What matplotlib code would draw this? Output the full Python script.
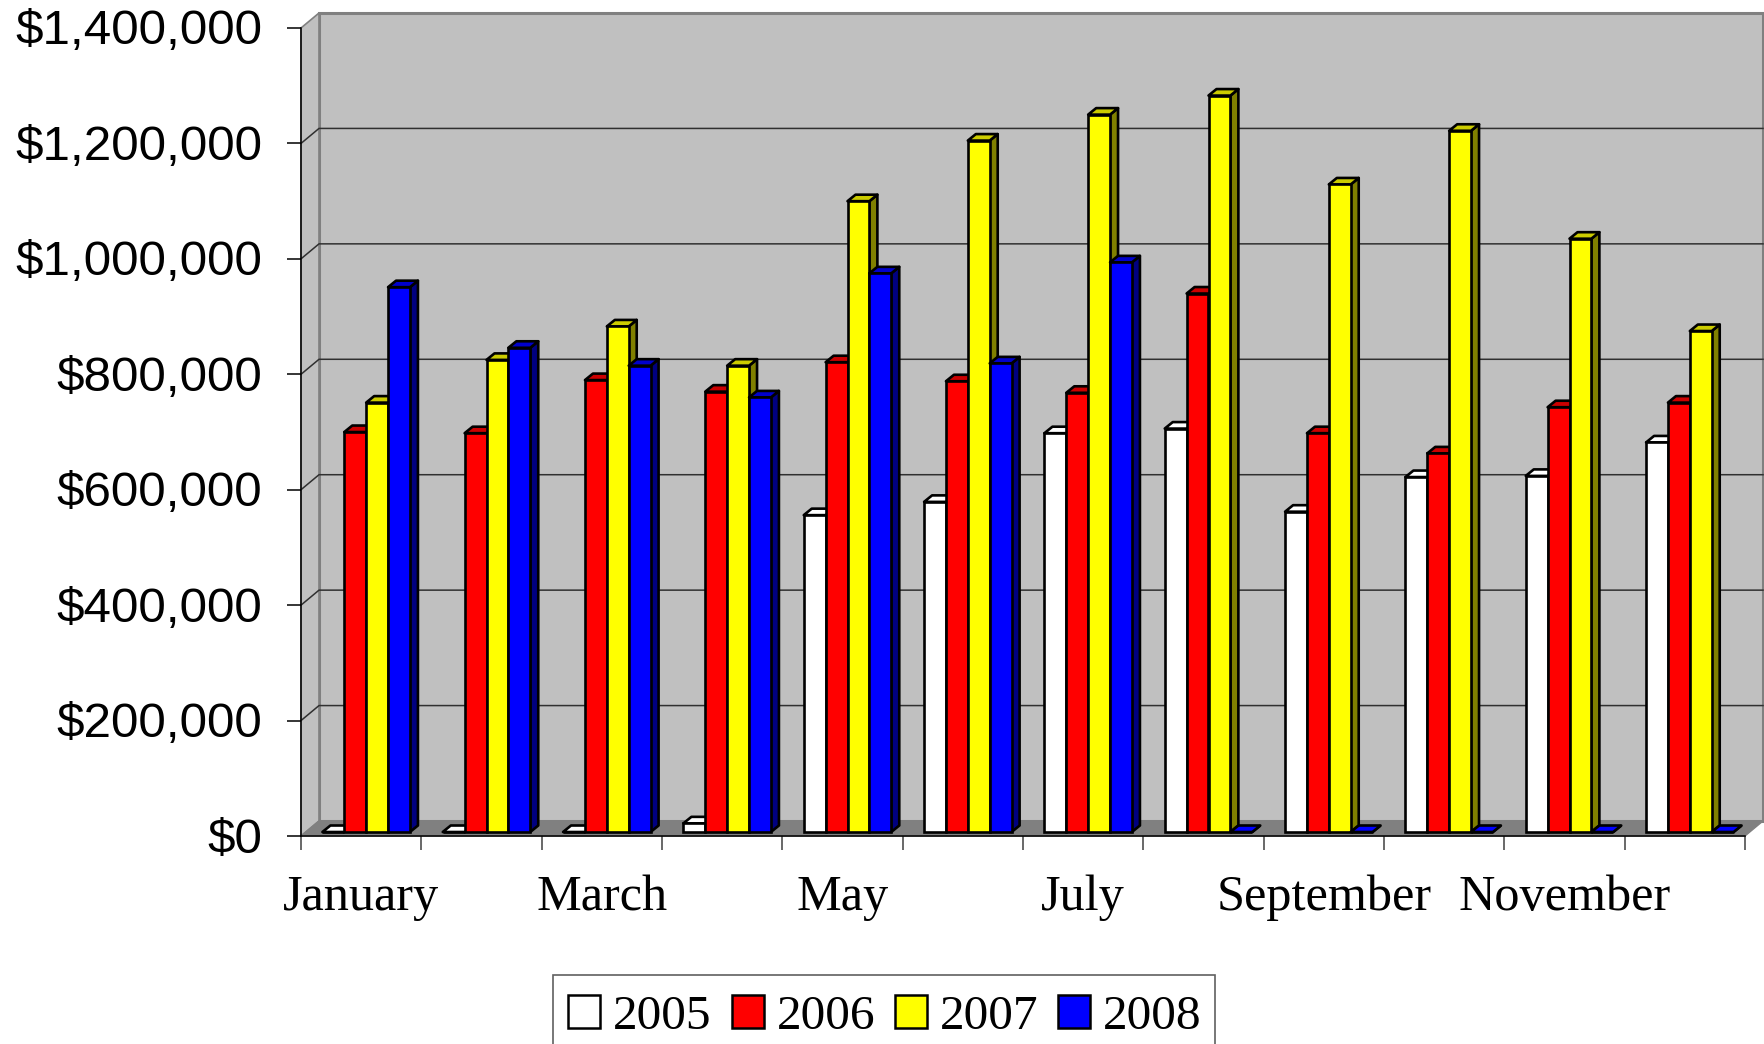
import matplotlib
matplotlib.use('Agg')
import matplotlib.pyplot as plt
from matplotlib.patches import Patch, Rectangle
from matplotlib.ticker import FuncFormatter
from matplotlib.transforms import Affine2D

months = ['January', 'February', 'March', 'April', 'May', 'June', 'July',
          'August', 'September', 'October', 'November', 'December']
years = ['2005', '2006', '2007', '2008']

sales_2005 = [0, 0, 0, 15000, 549000, 572000, 691000, 699000, 555000, 615000, 617000, 675000]
sales_2006 = [693000, 691000, 783000, 763000, 814000, 781000, 761000, 933000, 691000, 656000, 736000, 744000]
sales_2007 = [744000, 818000, 876000, 808000, 1093000, 1198000, 1243000, 1276000, 1122000, 1215000, 1028000, 868000]
sales_2008 = [944000, 839000, 808000, 753000, 968000, 812000, 987000, 0, 0, 0, 0, 0]
allSales = [sales_2005, sales_2006, sales_2007, sales_2008]

faceCols = ['#FFFFFF', '#FF0000', '#FFFF00', '#0000FF']
topCols = ['#FFFFFF', '#CC0000', '#CCCC00', '#0000CC']
sideCols = ['#808080', '#800000', '#808000', '#000080']
yTicks = [0, 200000, 400000, 600000, 800000, 1000000, 1200000, 1400000]

figW, figH = 1764, 1044
pxX = 12 / 1444      # data units per pixel
pxY = 1400000 / 808

fig = plt.figure(figsize=(figW / 100, figH / 100), dpi=100)
ax = fig.add_axes([301 / figW, (figH - 836) / figH, 1444 / figW, 808 / figH])
ax.set_xlim(0, 12)
ax.set_ylim(0, 1400000)

# walls and floor
wallX = 18 * pxX
wallY = 15 * pxY
ax.fill([wallX, 12 + wallX, 12 + wallX, wallX], [wallY, wallY, 1400000 + wallY, 1400000 + wallY],
        fc='#C0C0C0', ec='#808080', lw=2.2, clip_on=False, zorder=1)
ax.fill([0, wallX, wallX, 0], [0, wallY, 1400000 + wallY, 1400000],
        fc='#C0C0C0', ec='#808080', lw=1.2, clip_on=False, zorder=1.1)
ax.fill([0, 12, 12 + wallX, wallX], [0, 0, wallY, wallY], fc='#808080', ec='#808080', lw=1,
        clip_on=False, zorder=1.5)
for t in yTicks[1:-1]:
    ax.plot([0, wallX, 12 + wallX], [t, t + wallY, t + wallY], color='#303030', lw=1.1,
            clip_on=False, zorder=1.2)

# bars with fake depth
barW = 12 / 12 / 5.5
depthX = 8 * pxX
depthY = 6.5 * pxY
shiftX = 5 * pxX
shiftY = 4 * pxY
z = 3
for m in range(12):
    left = m + (1 - 4 * barW) / 2 + shiftX
    for s in range(4):
        v = allSales[s][m]
        x0 = left + s * barW
        x1 = x0 + barW
        top = shiftY + v
        ax.fill([x1, x1 + depthX, x1 + depthX, x1], [shiftY, shiftY + depthY, top + depthY, top],
                fc=sideCols[s], ec='black', lw=1.9, clip_on=False, zorder=z, joinstyle='round')
        ax.fill([x0, x1, x1 + depthX, x0 + depthX], [top, top, top + depthY, top + depthY],
                fc=faceCols[s] if v == 0 else topCols[s],
                ec='black', lw=1.9, clip_on=False, zorder=z, joinstyle='round')
        ax.bar(x0, v, barW, bottom=shiftY, align='edge', color=faceCols[s], edgecolor='black',
               lw=1.9, clip_on=False, zorder=z + 0.5)
        z += 1

# axes, ticks, labels
for name in ['top', 'right']:
    ax.spines[name].set_visible(False)
for name in ['left', 'bottom']:
    ax.spines[name].set_linewidth(1.1)
    ax.spines[name].set_zorder(200)
ax.set_yticks(yTicks)
ax.yaxis.set_major_formatter(FuncFormatter(lambda v, p: '${:,.0f}'.format(v)))
ax.set_xticks(range(13))
ax.set_xticklabels([])
ax.set_xticks([i + 0.5 for i in range(0, 12, 2)], minor=True)
ax.set_xticklabels(months[0::2], minor=True, fontfamily='Liberation Serif', fontsize=36.2)
ax.tick_params(axis='x', which='major', length=10, width=1.1, color='#404040')
ax.tick_params(axis='x', which='minor', length=0, pad=28)
ax.tick_params(axis='y', length=10, width=1.1, pad=18)
for lab in ax.get_yticklabels():
    lab.set_fontfamily('Liberation Sans')
    lab.set_fontsize(35.6)
    lab.set_transform(lab.get_transform() + Affine2D().translate(0, 1))

# legend box runs off the bottom of the picture
fig.add_artist(Rectangle((553 / figW, -0.02), 662 / figW, (figH - 975) / figH + 0.02,
                         transform=fig.transFigure, fc='white', ec='#606060', lw=1.2))
handles = [Patch(facecolor=c, edgecolor='black', lw=1.8) for c in faceCols]
fig.legend(handles, years, loc='upper left', bbox_to_anchor=(552 / figW, (figH - 979) / figH),
           ncol=4, frameon=False, prop={'family': 'Liberation Serif', 'size': 35.6},
           handlelength=0.65, handleheight=0.65, handletextpad=0.26, columnspacing=0.40,
           borderpad=0.33, borderaxespad=0)

fig.savefig('out.png', dpi=100)
